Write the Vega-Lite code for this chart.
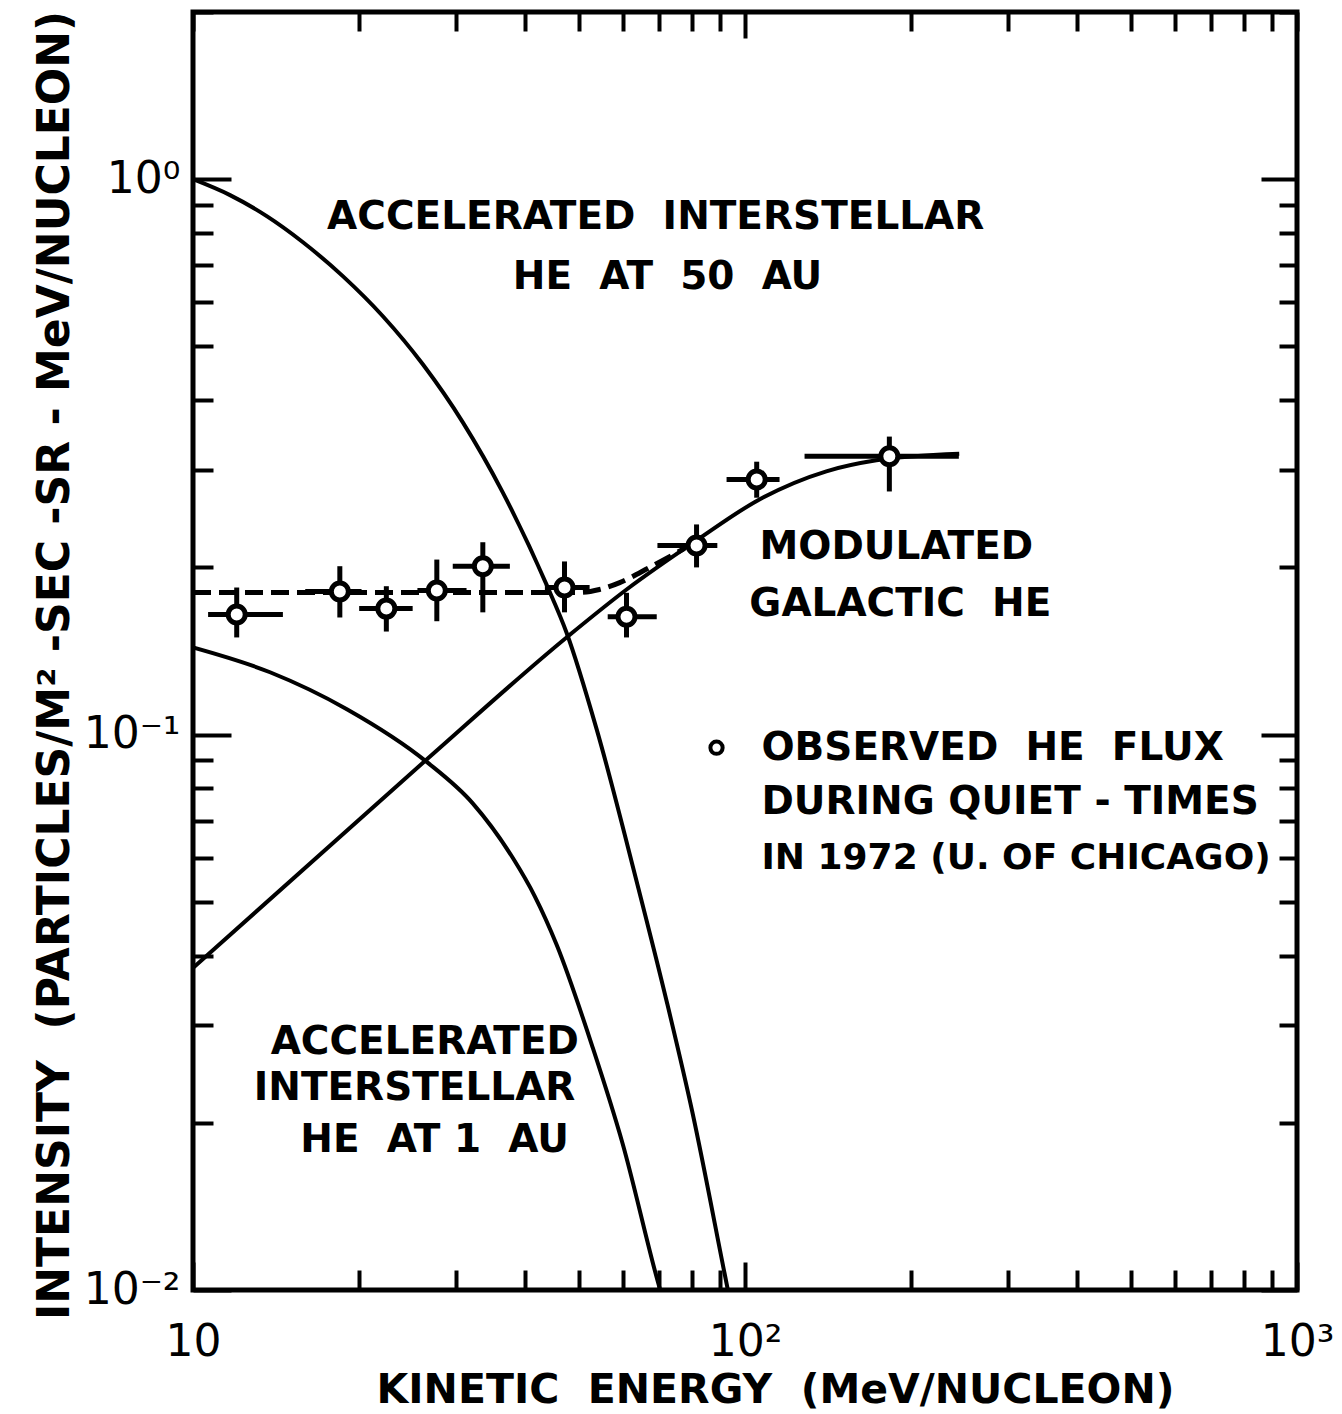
{
  "$schema": "https://vega.github.io/schema/vega-lite/v6.json",
  "width": 1104,
  "height": 1278,
  "autosize": "none",
  "padding": {"left": 193, "top": 12, "right": 45, "bottom": 124},
  "background": "white",
  "config": {
    "view": {"stroke": "black", "strokeWidth": 5},
    "axis": {"domain": false, "grid": false, "labelFont": "DejaVu Sans", "titleFont": "DejaVu Sans", "tickColor": "black", "labelColor": "black", "titleColor": "black"}
  },
  "datasets": {
    "curves": [
      {"series": "A", "E": 10, "I": 1.0},
      {"series": "A", "E": 11.67, "I": 0.936},
      {"series": "A", "E": 13.6, "I": 0.858},
      {"series": "A", "E": 15.82, "I": 0.77},
      {"series": "A", "E": 18.68, "I": 0.669},
      {"series": "A", "E": 22.08, "I": 0.5665},
      {"series": "A", "E": 26.08, "I": 0.4642},
      {"series": "A", "E": 30.82, "I": 0.3649},
      {"series": "A", "E": 36.4, "I": 0.273},
      {"series": "A", "E": 43.72, "I": 0.186},
      {"series": "A", "E": 47.53, "I": 0.1524},
      {"series": "A", "E": 53.85, "I": 0.1023},
      {"series": "A", "E": 63.62, "I": 0.05447},
      {"series": "A", "E": 72.12, "I": 0.03311},
      {"series": "A", "E": 80.35, "I": 0.02083},
      {"series": "A", "E": 91.8, "I": 0.01073},
      {"series": "A", "E": 93.1, "I": 0.01},
      {"series": "B", "E": 10, "I": 0.1435},
      {"series": "B", "E": 13.79, "I": 0.1295},
      {"series": "B", "E": 19.0, "I": 0.1111},
      {"series": "B", "E": 26.51, "I": 0.0893},
      {"series": "B", "E": 32.12, "I": 0.0752},
      {"series": "B", "E": 37.95, "I": 0.06},
      {"series": "B", "E": 41.59, "I": 0.0512},
      {"series": "B", "E": 45.6, "I": 0.0418},
      {"series": "B", "E": 52.97, "I": 0.02734},
      {"series": "B", "E": 60.01, "I": 0.01836},
      {"series": "B", "E": 69.71, "I": 0.01025},
      {"series": "B", "E": 70.2, "I": 0.01},
      {"series": "C", "E": 10, "I": 0.038},
      {"series": "C", "E": 26.5, "I": 0.0902},
      {"series": "C", "E": 47.5, "I": 0.1496},
      {"series": "C", "E": 61.02, "I": 0.1825},
      {"series": "C", "E": 81.7, "I": 0.2237},
      {"series": "C", "E": 106.2, "I": 0.2651},
      {"series": "C", "E": 140.4, "I": 0.2979},
      {"series": "C", "E": 172.98, "I": 0.3118},
      {"series": "C", "E": 244.4, "I": 0.3205}
    ],
    "dashed": [
      {"E": 10, "I": 0.1803},
      {"E": 50.2, "I": 0.1803},
      {"E": 54.5, "I": 0.1825},
      {"E": 59.3, "I": 0.1878},
      {"E": 67.2, "I": 0.2},
      {"E": 77.7, "I": 0.2164}
    ],
    "obs": [
      {"E": 12.0, "I": 0.1645, "Elo": 10.65, "Ehi": 14.55, "Ilo": 0.1496, "Ihi": 0.184},
      {"E": 18.45, "I": 0.181, "Elo": 15.97, "Ehi": 20.2, "Ilo": 0.1625, "Ihi": 0.201},
      {"E": 22.4, "I": 0.1686, "Elo": 20.0, "Ehi": 25.0, "Ilo": 0.1533, "Ihi": 0.185},
      {"E": 27.65, "I": 0.1817, "Elo": 25.5, "Ehi": 31.3, "Ilo": 0.16, "Ihi": 0.2066},
      {"E": 33.5, "I": 0.201, "Elo": 29.55, "Ehi": 37.5, "Ilo": 0.166, "Ihi": 0.222},
      {"E": 47.1, "I": 0.184, "Elo": 43.4, "Ehi": 52.3, "Ilo": 0.166, "Ihi": 0.205},
      {"E": 61.0, "I": 0.163, "Elo": 56.4, "Ehi": 69.2, "Ilo": 0.1496, "Ihi": 0.18},
      {"E": 81.7, "I": 0.219, "Elo": 69.4, "Ehi": 89.1, "Ilo": 0.2, "Ihi": 0.239},
      {"E": 105, "I": 0.288, "Elo": 92.6, "Ehi": 115.5, "Ilo": 0.267, "Ihi": 0.31},
      {"E": 182.6, "I": 0.317, "Elo": 128.2, "Ehi": 244, "Ilo": 0.274, "Ihi": 0.344}
    ],
    "labelsCenter": [
      {"E": 68.9, "I": 0.854, "text": "ACCELERATED\u00a0\u00a0INTERSTELLAR"},
      {"E": 72.4, "I": 0.666, "text": "HE\u00a0\u00a0AT\u00a0\u00a050\u00a0\u00a0AU"},
      {"E": 188, "I": 0.2174, "text": "MODULATED"},
      {"E": 191.2, "I": 0.1715, "text": "GALACTIC\u00a0\u00a0HE"},
      {"E": 26.3, "I": 0.028, "text": "ACCELERATED"},
      {"E": 25.2, "I": 0.0231, "text": "INTERSTELLAR"},
      {"E": 27.4, "I": 0.0186, "text": "HE\u00a0\u00a0AT 1\u00a0\u00a0AU"}
    ],
    "labelsLeft": [
      {"E": 107.1, "I": 0.0947, "text": "OBSERVED\u00a0\u00a0HE\u00a0\u00a0FLUX"},
      {"E": 107.1, "I": 0.0757, "text": "DURING QUIET - TIMES"}
    ],
    "labelsLeftSmall": [
      {"E": 107.1, "I": 0.06, "text": "IN 1972 (U. OF CHICAGO)"}
    ],
    "legend": [
      {"E": 88.8, "I": 0.0947}
    ]
  },
  "resolve": {"axis": {"x": "independent", "y": "independent"}},
  "layer": [
    {
      "data": {"name": "curves"},
      "mark": {"type": "line", "stroke": "black", "strokeWidth": 4, "interpolate": "monotone", "clip": true},
      "encoding": {
        "detail": {"field": "series"},
        "x": {
          "field": "E", "type": "quantitative",
          "scale": {"type": "log", "domain": [10, 1000], "nice": false},
          "axis": {
            "orient": "bottom",
            "values": [10, 20, 30, 40, 50, 60, 70, 80, 90, 100, 200, 300, 400, 500, 600, 700, 800, 900, 1000],
            "tickSize": {"condition": {"test": "datum.value == 10 || datum.value == 100 || datum.value == 1000", "value": -28}, "value": -20},
            "tickWidth": 4,
            "labelExpr": "datum.value == 10 ? '10' : datum.value == 100 ? '10²' : datum.value == 1000 ? '10³' : ''",
            "labelFontSize": 44,
            "labelPadding": 58,
            "labelFlush": false,
            "labelOverlap": false,
            "title": "KINETIC\u00a0\u00a0ENERGY\u00a0\u00a0(MeV/NUCLEON)",
            "titleFontSize": 41,
            "titleFontWeight": "bold",
            "titleX": 582,
            "titleY": 100,
            "titleBaseline": "middle",
            "titleAlign": "center"
          }
        },
        "y": {
          "field": "I", "type": "quantitative",
          "scale": {"type": "log", "domain": [0.01, 2], "nice": false},
          "axis": {
            "orient": "left",
            "values": [0.01, 0.02, 0.03, 0.04, 0.05, 0.06, 0.07, 0.08, 0.09, 0.1, 0.2, 0.3, 0.4, 0.5, 0.6, 0.7, 0.8, 0.9, 1, 2],
            "tickSize": {"condition": {"test": "datum.value == 0.01 || datum.value == 0.1 || datum.value == 1", "value": -38}, "value": -20},
            "tickWidth": 4,
            "labelExpr": "datum.value == 1 ? '10⁰' : datum.value == 0.1 ? '10⁻¹' : datum.value == 0.01 ? '10⁻²' : ''",
            "labelFontSize": 44,
            "labelPadding": 51,
            "labelOverlap": false,
            "labelFlush": false,
            "title": "INTENSITY\u00a0\u00a0(PARTICLES/M² -SEC -SR - MeV/NUCLEON)",
            "titleFontSize": 44,
            "titleFontWeight": "bold",
            "titleX": -138,
            "titleY": 653,
            "titleAngle": 270,
            "titleAlign": "center",
            "titleBaseline": "middle"
          }
        }
      }
    },
    {
      "data": {"name": "dashed"},
      "mark": {"type": "line", "stroke": "black", "strokeWidth": 5, "strokeDash": [18, 8], "interpolate": "monotone", "clip": true},
      "encoding": {
        "x": {
          "field": "E", "type": "quantitative",
          "scale": {"type": "log", "domain": [10, 1000], "nice": false},
          "axis": {
            "orient": "top",
            "values": [10, 20, 30, 40, 50, 60, 70, 80, 90, 100, 200, 300, 400, 500, 600, 700, 800, 900, 1000],
            "tickSize": {"condition": {"test": "datum.value == 100", "value": -26}, "value": -19},
            "tickWidth": 4,
            "labels": false,
            "title": null
          }
        },
        "y": {
          "field": "I", "type": "quantitative",
          "scale": {"type": "log", "domain": [0.01, 2], "nice": false},
          "axis": {
            "orient": "right",
            "values": [0.01, 0.02, 0.03, 0.04, 0.05, 0.06, 0.07, 0.08, 0.09, 0.1, 0.2, 0.3, 0.4, 0.5, 0.6, 0.7, 0.8, 0.9, 1, 2],
            "tickSize": {"condition": {"test": "datum.value == 0.01 || datum.value == 0.1 || datum.value == 1", "value": -36}, "value": -18},
            "tickWidth": 4,
            "labels": false,
            "title": null
          }
        }
      }
    },
    {
      "data": {"name": "obs"},
      "mark": {"type": "rule", "stroke": "black", "strokeWidth": 5},
      "encoding": {
        "x": {"field": "Elo", "type": "quantitative", "scale": {"type": "log", "domain": [10, 1000], "nice": false}, "axis": null},
        "x2": {"field": "Ehi"},
        "y": {"field": "I", "type": "quantitative", "scale": {"type": "log", "domain": [0.01, 2], "nice": false}, "axis": null}
      }
    },
    {
      "data": {"name": "obs"},
      "mark": {"type": "rule", "stroke": "black", "strokeWidth": 5},
      "encoding": {
        "x": {"field": "E", "type": "quantitative", "scale": {"type": "log", "domain": [10, 1000], "nice": false}, "axis": null},
        "y": {"field": "Ilo", "type": "quantitative", "scale": {"type": "log", "domain": [0.01, 2], "nice": false}, "axis": null},
        "y2": {"field": "Ihi"}
      }
    },
    {
      "data": {"name": "obs"},
      "mark": {"type": "point", "shape": "circle", "filled": true, "fill": "white", "stroke": "black", "strokeWidth": 5, "size": 290, "opacity": 1},
      "encoding": {
        "x": {"field": "E", "type": "quantitative", "scale": {"type": "log", "domain": [10, 1000], "nice": false}, "axis": null},
        "y": {"field": "I", "type": "quantitative", "scale": {"type": "log", "domain": [0.01, 2], "nice": false}, "axis": null}
      }
    },
    {
      "data": {"name": "legend"},
      "mark": {"type": "point", "shape": "circle", "filled": true, "fill": "white", "stroke": "black", "strokeWidth": 4, "size": 150, "opacity": 1},
      "encoding": {
        "x": {"field": "E", "type": "quantitative", "scale": {"type": "log", "domain": [10, 1000], "nice": false}, "axis": null},
        "y": {"field": "I", "type": "quantitative", "scale": {"type": "log", "domain": [0.01, 2], "nice": false}, "axis": null}
      }
    },
    {
      "data": {"name": "labelsCenter"},
      "mark": {"type": "text", "font": "DejaVu Sans", "fontWeight": "bold", "fontSize": 39, "align": "center", "baseline": "middle", "color": "black"},
      "encoding": {
        "x": {"field": "E", "type": "quantitative", "scale": {"type": "log", "domain": [10, 1000], "nice": false}, "axis": null},
        "y": {"field": "I", "type": "quantitative", "scale": {"type": "log", "domain": [0.01, 2], "nice": false}, "axis": null},
        "text": {"field": "text"}
      }
    },
    {
      "data": {"name": "labelsLeft"},
      "mark": {"type": "text", "font": "DejaVu Sans", "fontWeight": "bold", "fontSize": 39, "align": "left", "baseline": "middle", "color": "black"},
      "encoding": {
        "x": {"field": "E", "type": "quantitative", "scale": {"type": "log", "domain": [10, 1000], "nice": false}, "axis": null},
        "y": {"field": "I", "type": "quantitative", "scale": {"type": "log", "domain": [0.01, 2], "nice": false}, "axis": null},
        "text": {"field": "text"}
      }
    },
    {
      "data": {"name": "labelsLeftSmall"},
      "mark": {"type": "text", "font": "DejaVu Sans", "fontWeight": "bold", "fontSize": 36, "align": "left", "baseline": "middle", "color": "black"},
      "encoding": {
        "x": {"field": "E", "type": "quantitative", "scale": {"type": "log", "domain": [10, 1000], "nice": false}, "axis": null},
        "y": {"field": "I", "type": "quantitative", "scale": {"type": "log", "domain": [0.01, 2], "nice": false}, "axis": null},
        "text": {"field": "text"}
      }
    }
  ]
}
